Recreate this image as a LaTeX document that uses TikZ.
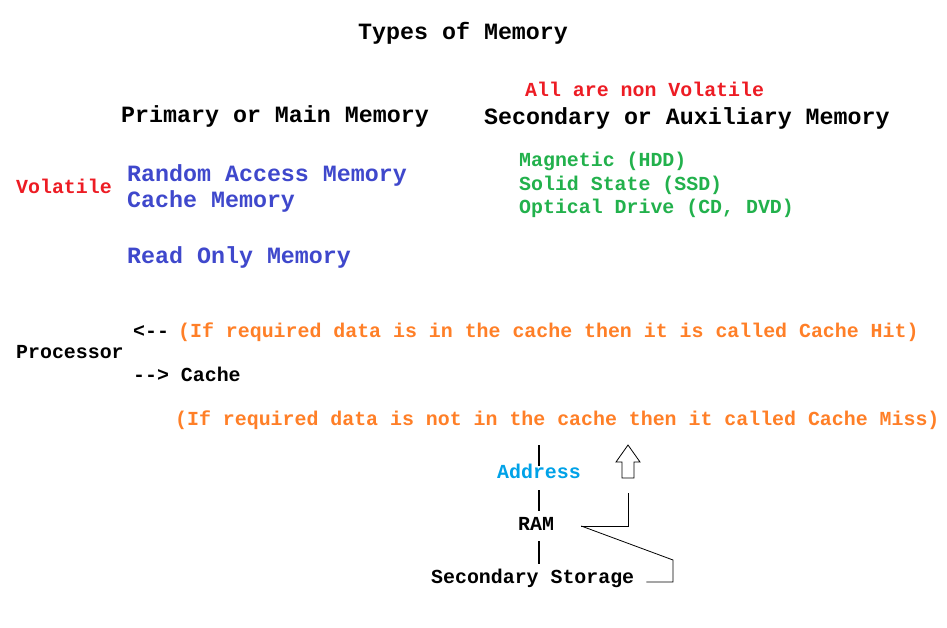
\documentclass[tikz,border=0pt]{standalone}
\usepackage{fontspec}
\setmonofont{Liberation Mono}
\usepackage{tikz}
\definecolor{paintred}{RGB}{237,28,36}
\definecolor{paintblue}{RGB}{63,72,204}
\definecolor{paintgreen}{RGB}{34,177,76}
\definecolor{paintorange}{RGB}{255,127,39}
\definecolor{paintcyan}{RGB}{0,162,232}
\tikzset{
	txt/.style={anchor=base west,inner sep=0pt,text height=0.6em,text depth=0.2em,font=\ttfamily\bfseries\fontsize{19.9}{24}\selectfont},
	big/.style={txt,font=\ttfamily\bfseries\fontsize{23.3}{28}\selectfont},
	bar/.style={line width=2pt},
	link/.style={line width=0.8pt}
}
\begin{document}
\begin{tikzpicture}[x=1pt,y=-1pt]
		\useasboundingbox[fill=white] (0,0) rectangle (947,628);
		\node[big] (title) at (358,40) {Types of Memory};
		\node[txt,paintred] (nonvol) at (525,97) {All are non Volatile};
		\node[big] (primary) at (121,123) {Primary or Main Memory};
		\node[big] (secondary) at (484,125) {Secondary or Auxiliary Memory};
		\node[txt,paintred] (vol) at (16,194) {Volatile};
		\node[big,paintblue] (ramname) at (127,182) {Random Access Memory};
		\node[big,paintblue] (cachename) at (127,208) {Cache Memory};
		\node[big,paintblue] (romname) at (127,263) {Read Only Memory};
		\node[txt,paintgreen] (hdd) at (519,167) {Magnetic (HDD)};
		\node[txt,paintgreen] (ssd) at (519,191) {Solid State (SSD)};
		\node[txt,paintgreen] (odd) at (519,214) {Optical Drive (CD, DVD)};
		\node[txt] (back) at (133,337) {<--};
		\node[txt,paintorange] (hit) at (178,337) {(If required data is in the cache then it is called Cache Hit)};
		\node[txt] (cpu) at (16,358) {Processor};
		\node[txt] (fwd) at (133,381) {--> Cache};
		\node[txt,paintorange] (miss) at (175,425) {(If required data is not in the cache then it called Cache Miss)};
		\node[txt,paintcyan] (addr) at (497,478) {Address};
		\node[txt] (ram) at (518,530) {RAM};
		\node[txt] (sec) at (431,583) {Secondary Storage};
		% the bars down the lookup path
		\draw[bar,shorten <=6pt,shorten >=18pt] (addr.north) -- (addr.north |- miss.south);
		\draw[bar,shorten <=10pt,shorten >=13pt] (addr.south) -- (addr.south |- ram.north);
		\draw[bar,shorten <=9pt,shorten >=13pt] (addr.south |- ram.south) -- (addr.south |- sec.north);
		% hollow arrow back up to the cache
		\coordinate (hitbase) at (628,478);
		\draw[link] (hitbase) -- ++(-6,0) -- ++(0,-16) -- ++(-6,0) -- ++(12,-17) -- ++(12,17) -- ++(-6,0) -- ++(0,16) -- cycle;
		\draw[link] ([xshift=27pt,yshift=2pt]ram.east) -| ([yshift=-15pt]hitbase);
		\draw[link] ([xshift=27pt,yshift=2pt]ram.east) -- (673,560) |- ([xshift=12pt,yshift=-1pt]sec.east);
	\end{tikzpicture}
\end{document}
